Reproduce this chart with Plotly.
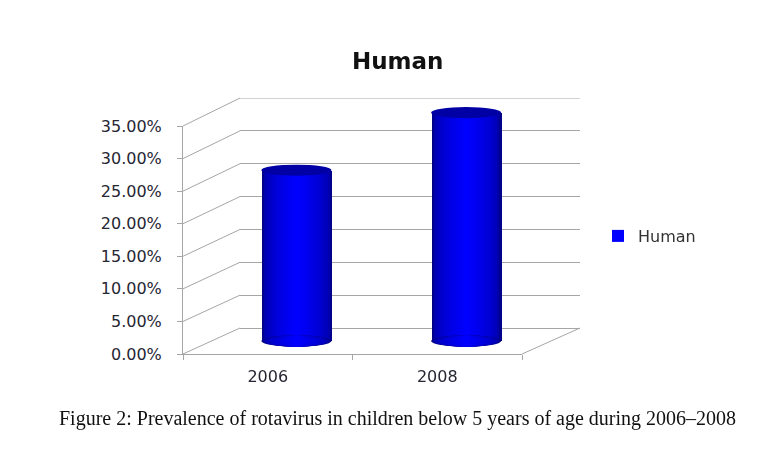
import plotly.graph_objects as go

years = ["2006", "2008"]
prevalence = [26.1, 34.9]          # % of children below 5 years
y_ticks = [0, 5, 10, 15, 20, 25, 30, 35]
y_tick_text = ["0.00%", "5.00%", "10.00%", "15.00%", "20.00%", "25.00%", "30.00%", "35.00%"]
series_name = "Human"
caption = "Figure 2: Prevalence of rotavirus in children below 5 years of age during 2006\u20132008"

W, H = 758, 476
OX, OY = 8, 8   # page body margin shifts the figure

# pixel boxes (as seen in the picture) of the front wall, middle of bars, back wall
front = dict(x0=183, x1=522, y0=354, y1=126)
mid = dict(x0=211.5, x1=551, y0=341, y1=112)
back = dict(x0=240, x1=580, y0=328, y1=98)

grid_col = "#a6a6a6"
pad = 2.5   # extra value room round the bar plane so the caps are not clipped


def px(x):
    return (x - OX) / W


def py(y):
    return 1 - (y - OY) / H


def xdom(b):
    return [px(b["x0"]), px(b["x1"])]


def ydom(b):
    return [py(b["y0"]), py(b["y1"])]


def ypx(b, v):
    return b["y0"] + (b["y1"] - b["y0"]) * v / y_ticks[-1]


fig = go.Figure()

# invisible traces so the front and back subplots exist
fig.add_trace(go.Scatter(x=years, y=prevalence, mode="markers", opacity=0,
                         showlegend=False, hoverinfo="skip", xaxis="x", yaxis="y"))
fig.add_trace(go.Scatter(x=years, y=prevalence, mode="markers", opacity=0,
                         showlegend=False, hoverinfo="skip", xaxis="x2", yaxis="y2"))

# cylinders: stacked overlay bars, narrower ones brighter -> round shading
bar_w = 0.413
n_layers = 16
cap_h = 0.85
shapes = []
for k in range(n_layers):
    t = (k / (n_layers - 1)) ** 0.45
    b = int(140 + (255 - 140) * t)
    col = f"rgb(0,0,{b})"
    wk = bar_w * (1 - k / n_layers)
    fig.add_trace(go.Bar(
        x=years, y=prevalence,
        width=wk,
        marker=dict(color=col, line=dict(width=0)),
        name=series_name,
        showlegend=(k == n_layers - 1),
        hoverinfo="skip" if k < n_layers - 1 else None,
        xaxis="x3", yaxis="y3",
    ))
    # rounded bottom of every layer
    for i, v in enumerate(prevalence):
        shapes.append(dict(type="circle", xref="x3", yref="y3",
                           x0=i - wk / 2, x1=i + wk / 2, y0=-cap_h, y1=cap_h,
                           fillcolor=col, line=dict(width=0), layer="above"))

# top caps of the cylinders
for i, v in enumerate(prevalence):
    shapes.append(dict(type="circle", xref="x3", yref="y3",
                       x0=i - bar_w / 2, x1=i + bar_w / 2, y0=v - cap_h, y1=v + cap_h,
                       fillcolor="rgb(0,0,165)", line=dict(width=0), layer="above"))

# side wall lines joining the front axis ticks to the back wall gridlines
for v in y_ticks:
    shapes.append(dict(type="line", xref="paper", yref="paper",
                       x0=px(front["x0"]), y0=py(ypx(front, v)),
                       x1=px(back["x0"]), y1=py(ypx(back, v)),
                       line=dict(color=grid_col, width=1), layer="below"))
# top gridline of the back wall (range edge)
shapes.append(dict(type="line", xref="x2 domain", yref="y2",
                   x0=0, x1=1, y0=y_ticks[-1], y1=y_ticks[-1],
                   line=dict(color=grid_col, width=1), layer="below"))
# right edge of the floor
shapes.append(dict(type="line", xref="paper", yref="paper",
                   x0=px(front["x1"]), y0=py(front["y0"]),
                   x1=px(back["x1"]), y1=py(back["y0"]),
                   line=dict(color=grid_col, width=1), layer="below"))

# middle plane widened by the padding
mid_scale = (mid["y0"] - mid["y1"]) / y_ticks[-1]
mid_dom = [py(mid["y0"] + pad * mid_scale), py(mid["y1"] - pad * mid_scale)]

tick_font = dict(family="DejaVu Sans", size=16, color="#262633")

fig.update_layout(
    width=W, height=H, autosize=False,
    margin=dict(l=0, r=0, t=0, b=0, autoexpand=False),
    paper_bgcolor="white", plot_bgcolor="rgba(0,0,0,0)",
    barmode="overlay", bargap=0,
    showlegend=True,
    legend=dict(x=px(598), y=py(236), xanchor="left", yanchor="middle",
                font=dict(family="DejaVu Sans", size=16, color="#333333"),
                bgcolor="rgba(0,0,0,0)"),
    shapes=shapes,
    xaxis=dict(domain=xdom(front), anchor="y", type="category",
               categoryarray=years, range=[-0.5, 1.5], automargin=False,
               tickson="boundaries", ticks="outside", ticklen=5,
               ticklabelstandoff=8,
               tickcolor=grid_col, showline=True, linecolor=grid_col,
               showgrid=False, tickfont=dict(family="DejaVu Sans", size=16, color="#262633")),
    yaxis=dict(domain=ydom(front), anchor="x", range=[0, 35], automargin=False,
               tickvals=y_ticks, ticktext=y_tick_text, ticks="outside", ticklen=5,
               ticklabelstandoff=12,
               tickcolor=grid_col, showline=True, linecolor=grid_col,
               showgrid=False, zeroline=False, tickfont=tick_font),
    xaxis2=dict(domain=xdom(back), anchor="y2", type="category",
                categoryarray=years, range=[-0.5, 1.5], visible=False),
    yaxis2=dict(domain=ydom(back), anchor="x2", range=[0, 35], tickvals=y_ticks,
                showticklabels=False, showgrid=True, gridcolor=grid_col,
                zeroline=True, zerolinecolor=grid_col, zerolinewidth=1,
                showline=False, ticks="", automargin=False),
    xaxis3=dict(domain=xdom(mid), anchor="y3", type="category",
                categoryarray=years, range=[-0.5, 1.5], visible=False),
    yaxis3=dict(domain=mid_dom, anchor="x3", range=[-pad, 35 + pad], visible=False),
    annotations=[
        dict(text="<b>Human</b>", x=px(397), y=py(61), xref="paper", yref="paper",
             xanchor="center", yanchor="middle",
             showarrow=False, font=dict(family="DejaVu Sans", size=23, color="#111111")),
        dict(text=caption, x=px(397.5), y=py(418), xref="paper", yref="paper",
             xanchor="center", yanchor="middle",
             showarrow=False, font=dict(family="Liberation Serif", size=20, color="#111111")),
    ],
)

fig.write_html("out.html")
